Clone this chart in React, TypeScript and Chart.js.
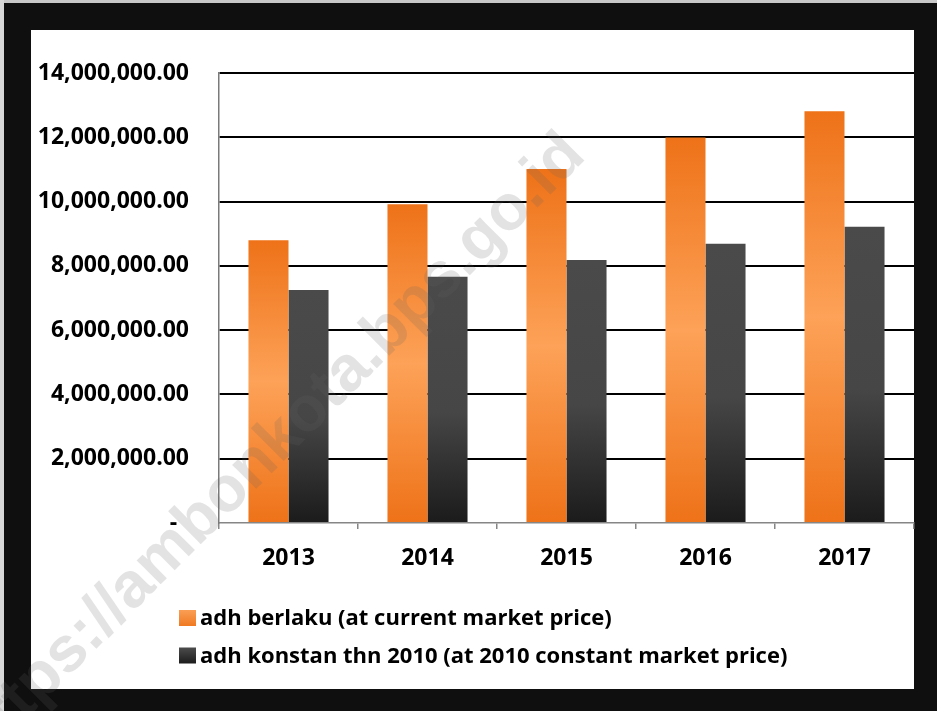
import React, { useEffect, useRef } from "react";
import { Chart, registerables } from "chart.js";

Chart.register(...registerables);

// ---- data ----
const years = ["2013", "2014", "2015", "2016", "2017"];
const currentPrice = [8800000, 9920000, 11010000, 11990000, 12810000];
const constantPrice = [7250000, 7660000, 8180000, 8690000, 9220000];
const seriesLabels = [
  "adh berlaku (at current market price)",
  "adh konstan thn 2010 (at 2010 constant market price)",
];
const yMin = 0;
const yMax = 14000000;
const yStep = 2000000;
const watermarkText = "https://ambonkota.bps.go.id";

// ---- styles ----
const FONT = "'Open Sans', 'Noto Sans', sans-serif";
const orangeStops: [number, string][] = [
  [0, "#EE7218"],
  [0.5, "#FDA258"],
  [1, "#EE7218"],
];
const grayStops: [number, string][] = [
  [0, "#4A4A4A"],
  [0.55, "#464646"],
  [1, "#1B1B1B"],
];

function barGradient(ctx: any, stops: [number, string][]) {
  const chart = ctx.chart;
  const yScale = chart.scales && chart.scales.y;
  if (!chart.chartArea || !yScale || ctx.raw == null) return stops[1][1];
  const top = yScale.getPixelForValue(ctx.raw);
  const bottom = yScale.getPixelForValue(0);
  if (!isFinite(top) || !isFinite(bottom) || Math.abs(bottom - top) < 1) return stops[1][1];
  const g = chart.ctx.createLinearGradient(0, top, 0, bottom);
  stops.forEach(([o, c]) => g.addColorStop(o, c));
  return g;
}

const framePlugin = {
  id: "frame",
  beforeDraw(chart: any) {
    const { ctx, width, height } = chart;
    ctx.save();
    ctx.fillStyle = "#0F0F0F";
    ctx.fillRect(0, 0, width, height);
    ctx.fillStyle = "#C8C8C8";
    ctx.fillRect(0, 0, width, 3);
    ctx.fillStyle = "#D8D8D8";
    ctx.fillRect(0, 0, 4, height);
    ctx.fillStyle = "#FFFFFF";
    ctx.fillRect(31, 30, 883, 659);
    ctx.restore();
  },
};

const legendPlugin = {
  id: "customLegend",
  afterDraw(chart: any) {
    const { ctx, chartArea } = chart;
    const boxStops = [
      ["#FA9E55", "#F07A22"],
      ["#4C4C4C", "#1C1C1C"],
    ];
    ctx.save();
    ctx.font = `bold 22px ${FONT}`;
    ctx.textBaseline = "middle";
    ctx.textAlign = "left";
    chart.data.datasets.forEach((ds: any, i: number) => {
      const cy = chartArea.bottom + 95 + i * 37.5;
      const x0 = chartArea.left - 40;
      const g = ctx.createLinearGradient(0, cy - 8, 0, cy + 8);
      g.addColorStop(0, boxStops[i][0]);
      g.addColorStop(1, boxStops[i][1]);
      ctx.fillStyle = g;
      ctx.fillRect(x0, cy - 8, 17, 16);
      ctx.fillStyle = "#000";
      ctx.fillText(ds.label, x0 + 21, cy + 1);
    });
    ctx.restore();
  },
};

const watermarkPlugin = {
  id: "watermark",
  afterDraw(chart: any) {
    const { ctx } = chart;
    ctx.save();
    ctx.translate(-31, 751);
    ctx.rotate(-Math.PI / 4);
    ctx.font = "bold 64px 'Liberation Sans', Arial, sans-serif";
    ctx.textBaseline = "middle";
    ctx.textAlign = "left";
    ctx.fillStyle = "rgba(100,100,100,0.18)";
    ctx.fillText(watermarkText, 0, 0);
    ctx.restore();
  },
};

export default function App() {
  const canvasRef = useRef<HTMLCanvasElement | null>(null);

  useEffect(() => {
    const canvas = canvasRef.current;
    if (!canvas) return;
    const chart = new Chart(canvas, {
      type: "bar",
      data: {
        labels: years,
        datasets: [
          {
            label: seriesLabels[0],
            data: currentPrice,
            backgroundColor: (c: any) => barGradient(c, orangeStops),
            borderWidth: 0,
            barPercentage: 1,
            categoryPercentage: 0.576,
          },
          {
            label: seriesLabels[1],
            data: constantPrice,
            backgroundColor: (c: any) => barGradient(c, grayStops),
            borderWidth: 0,
            barPercentage: 1,
            categoryPercentage: 0.576,
          },
        ],
      },
      options: {
        responsive: false,
        animation: false,
        layout: { padding: { left: 31, top: 73, right: 23, bottom: 128 } },
        plugins: {
          legend: { display: false },
          tooltip: { enabled: false },
        },
        scales: {
          x: {
            afterFit: (s: any) => {
              s.height = 60;
            },
            grid: {
              display: true,
              offset: true,
              drawOnChartArea: false,
              drawTicks: true,
              tickLength: 6,
              color: "#868686",
              lineWidth: 1.5,
            },
            border: { display: true, color: "#868686", width: 1.5 },
            ticks: {
              color: "#000",
              padding: 16,
              font: { family: FONT, size: 23, weight: "bold" },
            },
          },
          y: {
            min: yMin,
            max: yMax,
            afterFit: (s: any) => {
              s.width = 188;
            },
            grid: {
              drawTicks: false,
              color: (c: any) => (c.tick && c.tick.value === 0 ? "rgba(0,0,0,0)" : "#000"),
              lineWidth: 2,
            },
            border: { display: true, color: "#7A7A7A", width: 1.5 },
            ticks: {
              stepSize: yStep,
              color: "#000",
              padding: 30,
              font: { family: FONT, size: 23, weight: "bold" },
              callback: (v: any) =>
                Number(v) === 0
                  ? "-  "
                  : Number(v).toLocaleString("en-US", {
                      minimumFractionDigits: 2,
                      maximumFractionDigits: 2,
                    }),
            },
          },
        },
      },
      plugins: [framePlugin, legendPlugin, watermarkPlugin],
    });
    return () => chart.destroy();
  }, []);

  return (
    <div style={{ position: "absolute", left: 0, top: 0, width: 937, height: 711 }}>
      <canvas ref={canvasRef} width={937} height={711} style={{ display: "block" }} />
    </div>
  );
}
